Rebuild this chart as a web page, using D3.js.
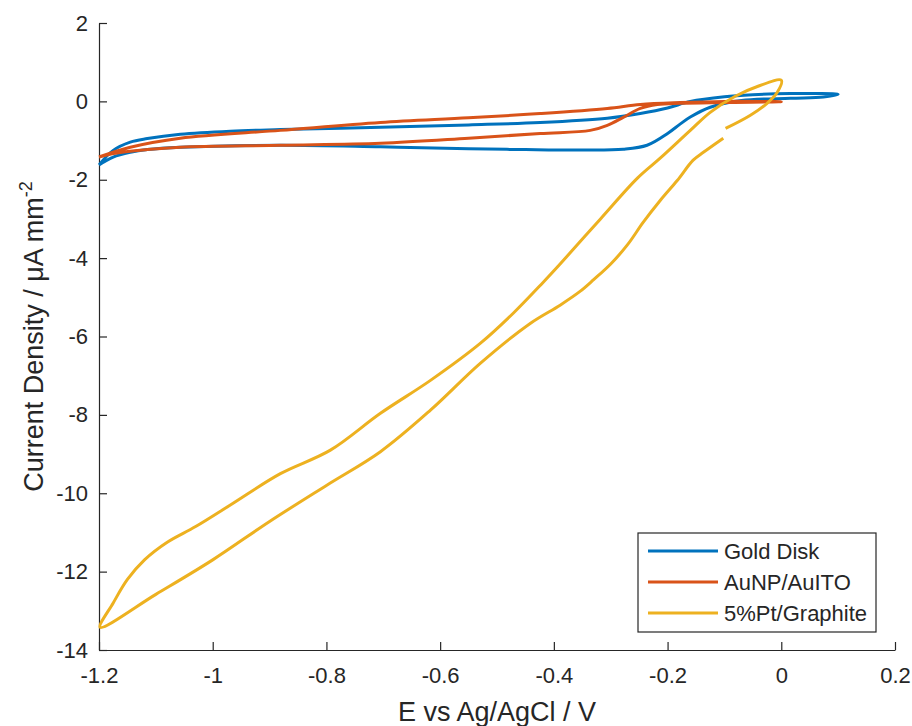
<!DOCTYPE html>
<html>
<head>
<meta charset="utf-8">
<script src="https://cdn.jsdelivr.net/npm/d3@7"></script>
<style>
  body { margin: 0; background: #fff; }
  text { font-family: "Liberation Sans", Arial, sans-serif; fill: #262626; }
</style>
</head>
<body>
<div class="grafico"></div>
<script>
const width = 912, height = 726;

// scan order: potential (V) and current density (uA/mm2)
const goldE = [-1.2, -1.175, -1.145, -1.115, -1.057, -0.969, -0.881, -0.705, -0.55, -0.424, -0.306, -0.248, -0.2, -0.16, -0.1, -0.05, 0.016, 0.06, 0.1,
               0.074, 0.016, -0.07, -0.125, -0.16, -0.178, -0.2, -0.236, -0.278, -0.35, -0.45, -0.55, -0.705, -0.881, -1.057, -1.115, -1.145, -1.175, -1.2];
const goldJ = [-1.62, -1.25, -1.04, -0.95, -0.84, -0.76, -0.72, -0.66, -0.6, -0.54, -0.43, -0.31, -0.17, 0.0, 0.12, 0.17, 0.2, 0.2, 0.18,
               0.11, 0.08, 0.02, -0.15, -0.4, -0.58, -0.82, -1.12, -1.22, -1.24, -1.23, -1.21, -1.16, -1.12, -1.17, -1.23, -1.3, -1.42, -1.62];

const aunpE = [-1.2, -1.145, -1.057, -0.881, -0.705, -0.55, -0.424, -0.306, -0.248, -0.178, -0.1, 0.0,
               -0.1, -0.178, -0.218, -0.248, -0.278, -0.306, -0.336, -0.424, -0.55, -0.705, -0.881, -1.057, -1.115, -1.175, -1.2];
const aunpJ = [-1.42, -1.17, -0.94, -0.74, -0.54, -0.42, -0.31, -0.18, -0.08, -0.03, 0.0, -0.01,
               -0.03, -0.05, -0.08, -0.18, -0.41, -0.61, -0.74, -0.82, -0.94, -1.07, -1.12, -1.17, -1.23, -1.33, -1.42];

const ptE = [-0.098, -0.055, -0.025, -0.007, 0.0, -0.042, -0.081, -0.125, -0.16, -0.213, -0.253, -0.318, -0.389, -0.419, -0.471, -0.529, -0.617, -0.705,
             -0.793, -0.881, -0.969, -1.03, -1.08, -1.12, -1.15, -1.175, -1.198,
             -1.1, -1.0, -0.9, -0.8, -0.705, -0.617, -0.529, -0.441, -0.389, -0.354, -0.33, -0.3, -0.27, -0.243, -0.213, -0.183, -0.155, -0.137, -0.102];
const ptJ = [-0.69, -0.36, -0.05, 0.23, 0.54, 0.38, 0.13, -0.28, -0.74, -1.45, -1.96, -3.0, -4.15, -4.62, -5.4, -6.17, -7.12, -7.96,
             -8.9, -9.5, -10.3, -10.85, -11.25, -11.7, -12.2, -12.8, -13.42,
             -12.58, -11.7, -10.72, -9.8, -8.94, -7.88, -6.68, -5.66, -5.2, -4.85, -4.55, -4.15, -3.65, -3.09, -2.53, -2.02, -1.5, -1.3, -0.94];

const seriesNames = ["Gold Disk", "AuNP/AuITO", "5%Pt/Graphite"];
const seriesColors = ["#0072BD", "#D95319", "#EDB120"];
const xTicks = [-1.2, -1, -0.8, -0.6, -0.4, -0.2, 0, 0.2];
const yTicks = [2, 0, -2, -4, -6, -8, -10, -12, -14];

const margin = {left: 99, right: 17, top: 23, bottom: 76};

const svg = d3.select(".grafico")
    .append("svg")
    .attr("width", width)
    .attr("height", height);

const x = d3.scaleLinear().domain([-1.2, 0.2]).range([margin.left, width - margin.right]);
const y = d3.scaleLinear().domain([-14, 2]).range([height - margin.bottom, margin.top]);

const fmt = d => d3.format("")(d).replace("−", "-");

svg.append("g")
    .attr("transform", `translate(0, ${height - margin.bottom})`)
    .call(d3.axisBottom(x).tickValues(xTicks).tickSizeInner(-8).tickSizeOuter(0).tickPadding(13).tickFormat(fmt))
    .call(g => g.selectAll("text").style("font-size", "22px").attr("fill", "#262626").attr("dy", "0.9em"));

svg.append("g")
    .attr("transform", `translate(${margin.left}, 0)`)
    .call(d3.axisLeft(y).tickValues(yTicks).tickSizeInner(-8).tickSizeOuter(0).tickPadding(11).tickFormat(fmt))
    .call(g => g.selectAll("text").style("font-size", "22px").attr("fill", "#262626"));

svg.selectAll(".domain, .tick line").attr("stroke", "#262626").attr("stroke-width", 1.2);

// curves
const data = [
    {key: seriesNames[0], pts: goldE.map((e, i) => [e, goldJ[i]])},
    {key: seriesNames[1], pts: aunpE.map((e, i) => [e, aunpJ[i]])},
    {key: seriesNames[2], pts: ptE.map((e, i) => [e, ptJ[i]])}
];
const color = d3.scaleOrdinal().domain(seriesNames).range(seriesColors);

const line = d3.line()
    .x(d => x(d[0]))
    .y(d => y(d[1]))
    .curve(d3.curveCatmullRom.alpha(0.5));

svg.append("g").selectAll("path")
    .data(data)
    .enter().append("path")
    .attr("d", d => line(d.pts))
    .attr("fill", "none")
    .attr("stroke", d => color(d.key))
    .attr("stroke-width", 3)
    .attr("stroke-linejoin", "round");

// axis titles
svg.append("text")
    .attr("x", (margin.left + width - margin.right) / 2)
    .attr("y", 721)
    .attr("text-anchor", "middle")
    .style("font-size", "27px")
    .text("E vs Ag/AgCl / V");

const yl = svg.append("text")
    .attr("transform", `translate(43, ${(margin.top + height - margin.bottom) / 2}) rotate(-90)`)
    .attr("text-anchor", "middle")
    .style("font-size", "27px");
yl.append("tspan").text("Current Density / μA mm");
yl.append("tspan").attr("dy", "-0.6em").style("font-size", "18px").text("-2");

// legend
const legend = svg.append("g").attr("transform", "translate(638, 533)");
legend.append("rect")
    .attr("width", 238).attr("height", 99)
    .attr("fill", "#fff").attr("stroke", "#262626").attr("stroke-width", 1.2);
const item = legend.selectAll(".item")
    .data(seriesNames)
    .enter().append("g")
    .attr("class", "item")
    .attr("transform", (d, i) => `translate(0, ${18 + i * 31})`);
item.append("line")
    .attr("x1", 10).attr("x2", 80)
    .attr("stroke", d => color(d)).attr("stroke-width", 3);
item.append("text")
    .attr("x", 86).attr("dy", "0.35em")
    .style("font-size", "22px")
    .text(d => d);
</script>
</body>
</html>
